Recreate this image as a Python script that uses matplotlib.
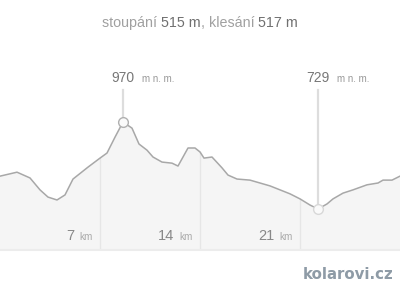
import numpy as np
import matplotlib
matplotlib.use("Agg")
import matplotlib.pyplot as plt

# profile: distance (km), elevation (m n. m.)
km = [0.0, 1.19, 2.1, 2.8, 3.36, 3.99, 4.55, 5.11, 6.16, 7.0, 7.49, 8.05, 8.61,
      9.24, 9.73, 10.29, 10.71, 11.34, 12.04, 12.46, 13.16, 13.65, 14.0, 14.28,
      14.84, 15.54, 15.96, 16.59, 17.5, 18.2, 18.9, 19.6, 20.3, 21.0, 21.7,
      22.26, 22.89, 23.31, 24.01, 24.71, 25.69, 26.46, 26.81, 27.44, 28.0]
elev = [820, 831, 815, 782, 762, 754, 768, 812, 845, 870, 884, 928, 970,
        953, 909, 892, 873, 859, 856, 848, 898, 898, 887, 870,
        873, 843, 823, 812, 809, 801, 793, 782, 771, 757, 740,
        729, 743, 757, 773, 782, 796, 801, 809, 809, 820]

km_ticks = [7, 14, 21]
extremes_km = [8.61, 22.26]
extremes_m = [970, 729]
climb = 515
descent = 517

W, H = 400, 283
fig = plt.figure(figsize=(W / 100, H / 100), dpi=100)
fig.patch.set_facecolor("white")

# axes: full width, bottom edge at pixel row 250
ax = fig.add_axes([0, (H - 250) / H, 1, 250 / H])
ax.set_xlim(0, 28)
m_per_px = (970 - 729) / (209 - 122)
ymin = 729 - (250 - 209) * m_per_px
ymax = 970 + 122 * m_per_px
ax.set_ylim(ymin, ymax)
ax.axis("off")

ax.fill_between(km, elev, ymin, color="#f5f5f5", lw=0, zorder=1)
for t in km_ticks:
    top = np.interp(t, km, elev)
    ax.plot([t, t], [ymin, top], color="#e6e6e6", lw=1, zorder=2)
ax.plot(km, elev, color="#a8a8a8", lw=1.1, zorder=3)

# bottom rule
fig.add_artist(plt.Line2D([0, 1], [(H - 250) / H] * 2, color="#ececec", lw=1.5))

line_top = 970 + (122 - 90) * m_per_px
mk_cols = ["#b0b0b0", "#d8d8d8"]
for x, y, c in zip(extremes_km, extremes_m, mk_cols):
    ax.plot([x, x], [y, line_top], color="#dddddd", lw=1.6, zorder=2)
    ax.plot(x, y, "o", ms=7, mfc="#fafafa", mec=c, mew=1, zorder=4)
    ax.annotate(str(y), (x, line_top), xytext=(0, 6), textcoords="offset points",
                ha="center", va="baseline", fontsize=10, color="#777777",
                family="Liberation Sans")
    ax.annotate("m n. m.", (x, line_top), xytext=(13.5, 6), textcoords="offset points",
                ha="left", va="baseline", fontsize=7, color="#999999",
                family="Liberation Sans")

for t in km_ticks:
    ax.annotate(str(t), (t, ymin), xytext=(-18.5, 7), textcoords="offset points",
                ha="right", va="baseline", fontsize=10.5, color="#888888",
                family="Liberation Sans")
    ax.annotate("km", (t, ymin), xytext=(-5.5, 7), textcoords="offset points",
                ha="right", va="baseline", fontsize=7.2, color="#aaaaaa",
                family="Liberation Sans")

# title with mixed colours
runs = [("stoupání ", "#a0a0a0"), (f"{climb} m", "#707070"), (", klesání ", "#a0a0a0"),
        (f"{descent} m", "#707070")]
renderer = fig.canvas.get_renderer()
texts = []
widths = []
for s, c in runs:
    t = fig.text(0, 1 - 27 / H, s, fontsize=10.3, color=c, family="Liberation Sans",
                 va="baseline", ha="left")
    widths.append(t.get_window_extent(renderer).width)
    texts.append(t)
x0 = (W - sum(widths)) / 2
for t, w in zip(texts, widths):
    t.set_x(x0 / W)
    x0 += w

fig.text(393 / W, 1 - 279 / H, "kolarovi.cz", fontsize=10.8, fontweight="bold",
         color="#8e9ba6", family="DejaVu Sans", ha="right", va="baseline")

fig.savefig("out.png", dpi=100, facecolor="white")
